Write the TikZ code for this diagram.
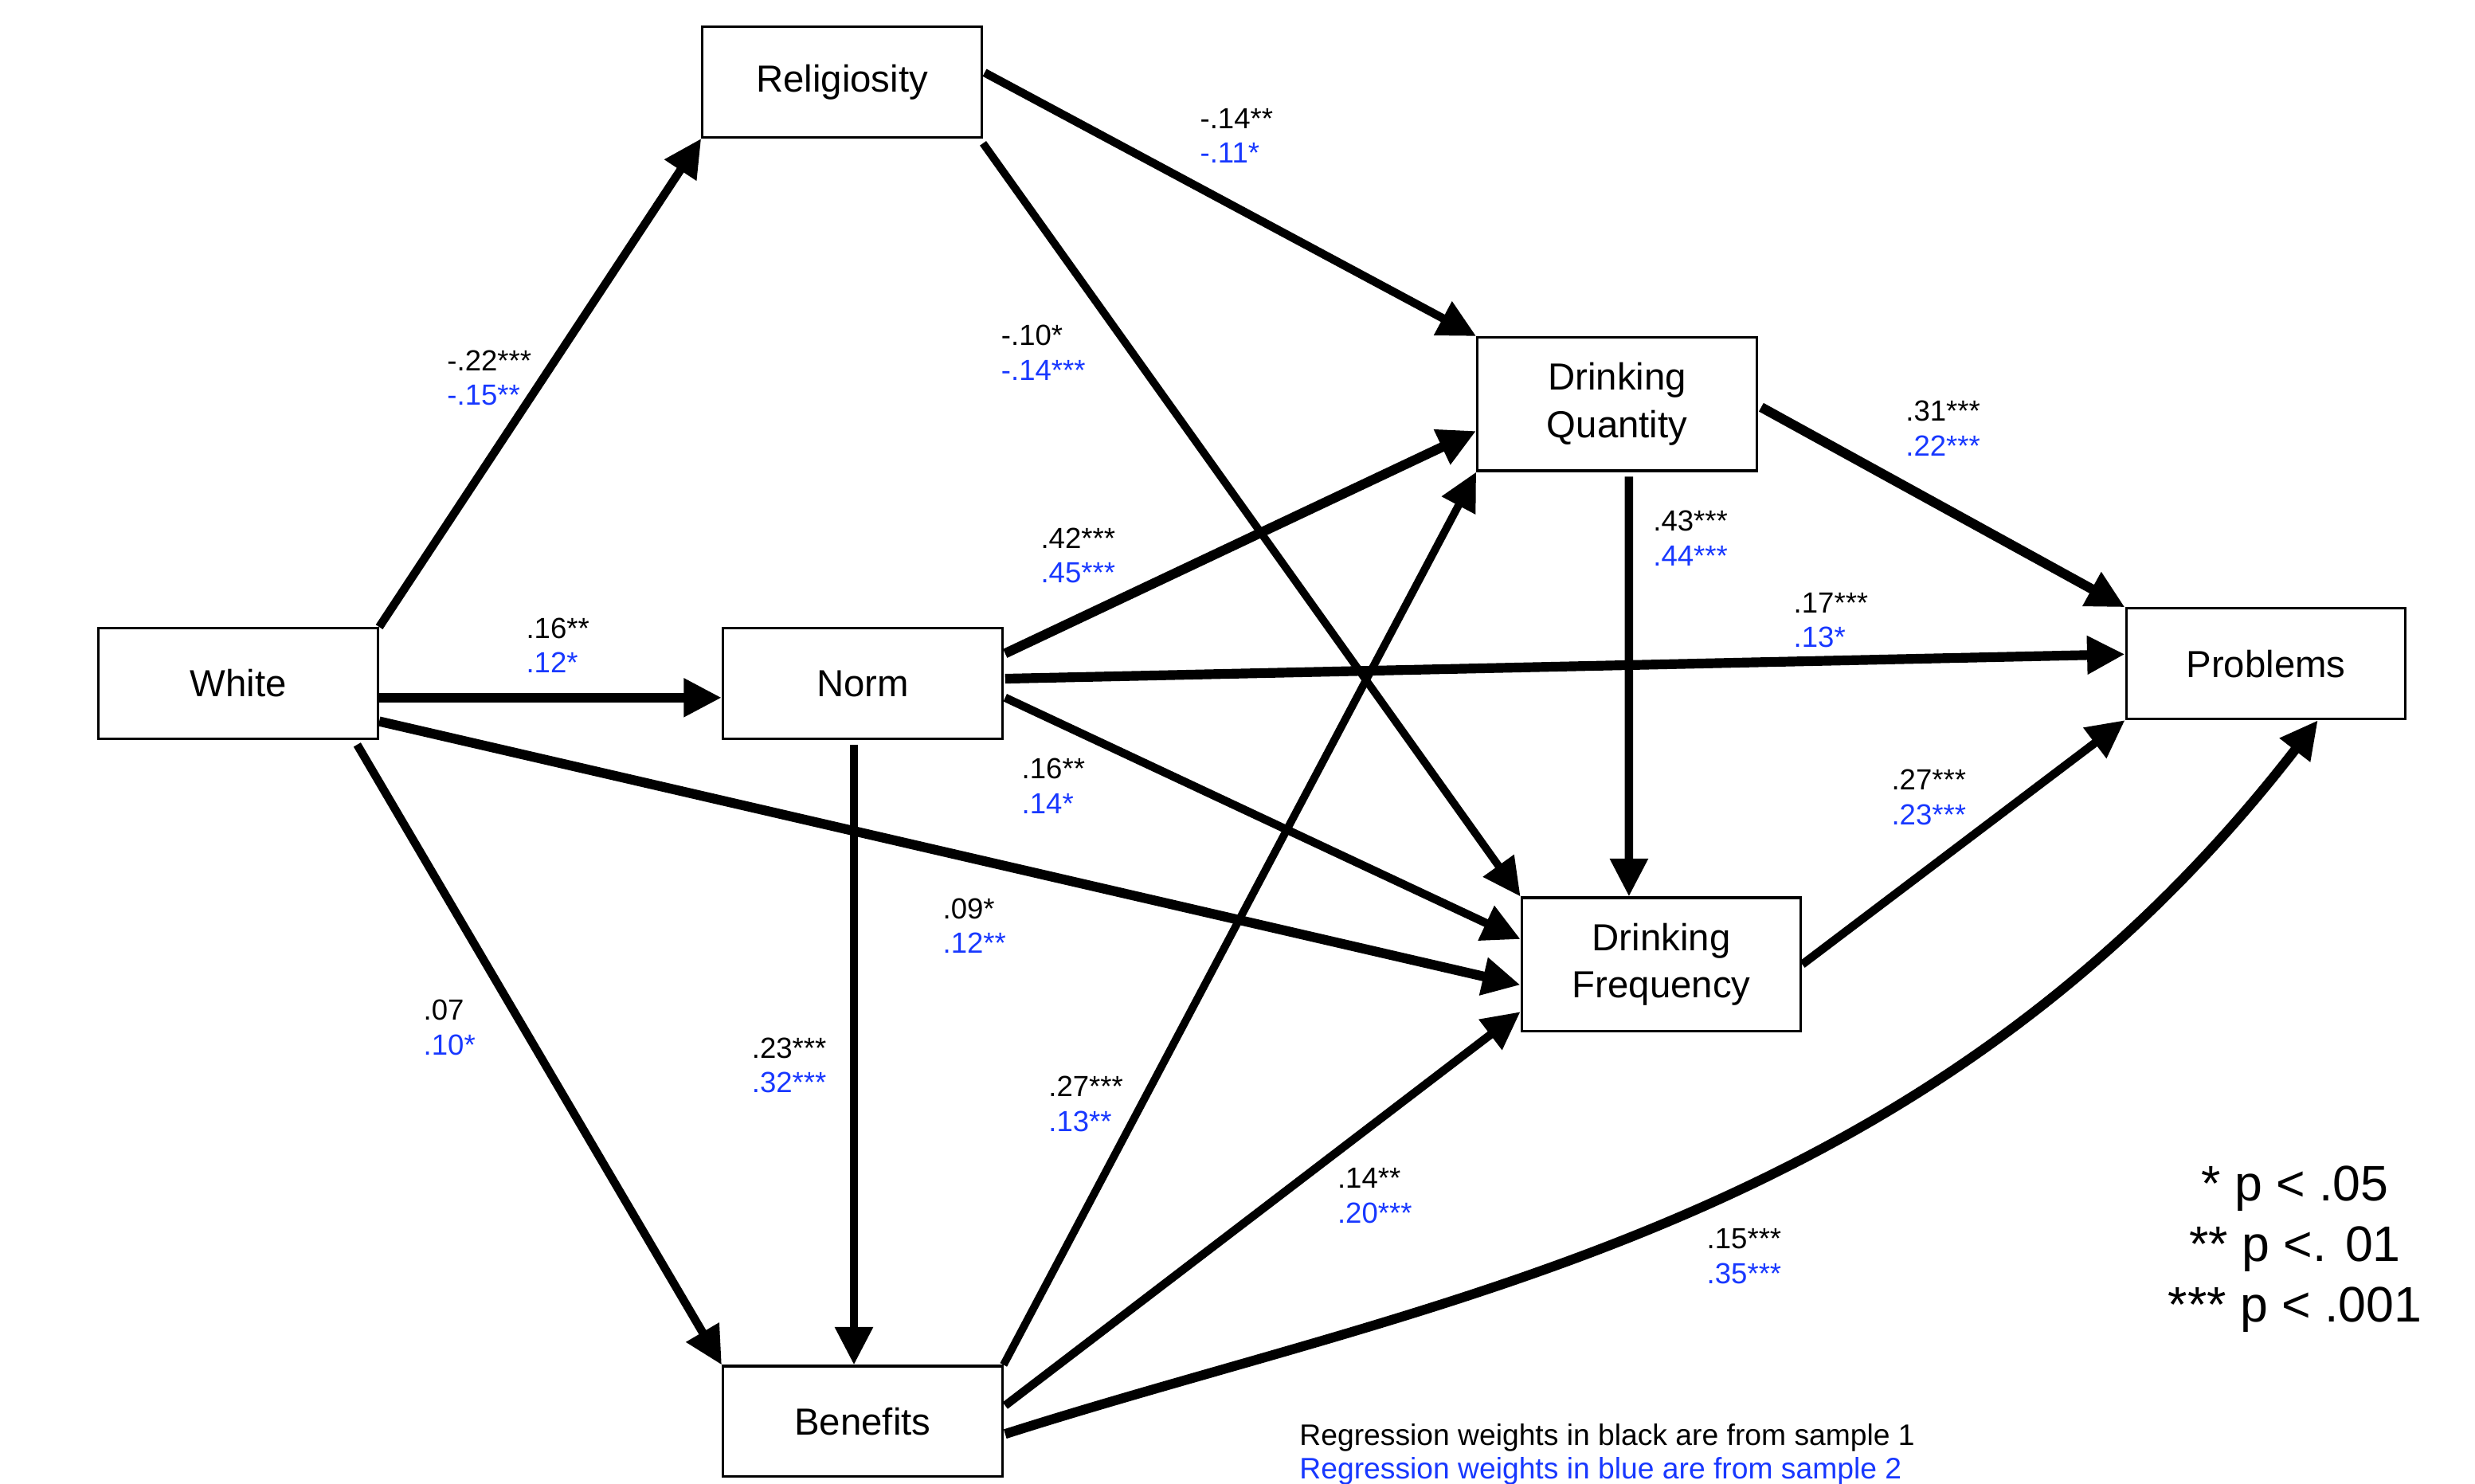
\documentclass[tikz,border=0pt]{standalone}
\usepackage{fontspec}
\setmainfont{Liberation Sans}
\usetikzlibrary{arrows.meta,calc}
\definecolor{cblue}{RGB}{24,56,255}
\tikzset{
  box/.style={draw, line width=0.9pt, minimum width=3.54cm, minimum height=1.4cm, inner sep=0pt, align=center, font=\fontsize{13.6}{16.4}\selectfont},
  tallbox/.style={box, minimum height=1.69cm},
  arr/.style={line width=3.0pt, -{Triangle[length=0.48cm,width=0.46cm]}},
  arrthin/.style={arr, line width=2.8pt},
  arrthick/.style={arr, line width=3.5pt},
  coef/.style={anchor=west, inner sep=0pt, align=left, font=\fontsize{10.5}{12.5}\selectfont},
}
\newcommand{\cf}[2]{#1\\\textcolor{cblue}{#2}}
\begin{document}
\begin{tikzpicture}[x=0.02cm,y=-0.02cm]
\useasboundingbox (0,0) rectangle (1568,940);
% nodes
\node[box] (Rel) at (533.5,52) {\raisebox{-1.2pt}{Religiosity}};
\node[box] (White) at (151,433) {\raisebox{-1.2pt}{White}};
\node[box] (Norm) at (546.5,433) {\raisebox{-1.2pt}{Norm}};
\node[tallbox] (DQ) at (1024.5,256) {\raisebox{-1.6pt}{\shortstack{Drinking\\[1.8pt]Quantity}}};
\node[box] (Prob) at (1435.5,420.5) {\raisebox{-1.2pt}{Problems}};
\node[tallbox] (DF) at (1052.5,611) {\raisebox{-1.6pt}{\shortstack{Drinking\\[1.8pt]Frequency}}};
\node[box] (Ben) at (546.5,900.5) {\raisebox{-1.2pt}{Benefits}};
% connectors
\draw[arr] (White.north east) -- (Rel.south west);
\draw[arrthick] ($(White.east)+(0,9)$) -- ($(Norm.west)+(0,9)$);
\draw[arrthick] ($(White.east)+(0,24)$) -- ($(DF.west)+(0,13)$);
\draw[arr] ($(White.south east)+(-14,3)$) -- (Ben.north west);
\draw[arr] ($(Rel.east)+(1,-6)$) -- (DQ.north west);
\draw[arrthin] ($(Rel.south east)+(0,3)$) -- (DF.north west);
\draw[arrthick] ($(Norm.east)+(1,-19)$) -- ($(DQ.west)+(0,17)$);
\draw[arrthick] ($(Norm.east)+(1,-3)$) -- ($(Prob.west)+(0,-6)$);
\draw[arr] ($(Norm.east)+(1,9)$) -- ($(DF.west)+(0,-16)$);
\draw[arr] ($(Norm.south)+(-5.5,3)$) -- ($(Ben.north)+(-5.5,0)$);
\draw[arrthick] ($(DQ.east)+(2,2)$) -- (Prob.north west);
\draw[arr] ($(DQ.south)+(7.5,3)$) -- ($(DF.north)+(-20.5,0)$);
\draw[arr] (DF.east) -- (Prob.south west);
\draw[arrthin] (Ben.north east) -- (DQ.south west);
\draw[arr] ($(Ben.east)+(1,-10)$) -- ($(DF.west)+(0,30)$);
\draw[arrthick] ($(Ben.east)+(1,8)$) .. controls +(269,-86) and +(-250,323) .. ($(Prob.south)+(33,0)$);
% coefficients
\node[coef] (c1) at (760,86) {\cf{-.14**}{-.11*}};
\node[coef] (c2) at (283,239.5) {\cf{-.22***}{-.15**}};
\node[coef] (c3) at (634,223.5) {\cf{-.10*}{-.14***}};
\node[coef] (c4) at (1207,271.5) {\cf{.31***}{.22***}};
\node[coef] (c5) at (659,352) {\cf{.42***}{.45***}};
\node[coef] (c6) at (1047,341) {\cf{.43***}{.44***}};
\node[coef] (c7) at (333,409) {\cf{.16**}{.12*}};
\node[coef] (c8) at (1136,393) {\cf{.17***}{.13*}};
\node[coef] (c9) at (647,498) {\cf{.16**}{.14*}};
\node[coef] (c10) at (1198,505) {\cf{.27***}{.23***}};
\node[coef] (c11) at (597,586.5) {\cf{.09*}{.12**}};
\node[coef] (c12) at (268,651) {\cf{.07}{.10*}};
\node[coef] (c13) at (476,675) {\cf{.23***}{.32***}};
\node[coef] (c14) at (664,699.5) {\cf{.27***}{.13**}};
\node[coef] (c15) at (847,757.5) {\cf{.14**}{.20***}};
\node[coef] (c16) at (1081,796) {\cf{.15***}{.35***}};
% legend
\node[align=center, inner sep=0pt, font=\fontsize{18}{21.8}\selectfont] (leg) at (1454,791.5) {* p < .05\\** p <. 01\\*** p < .001};
\node[anchor=west, align=left, inner sep=0pt, font=\fontsize{10.7}{12}\selectfont] (note) at (823,921.5) {Regression weights in black are from sample 1\\\textcolor{cblue}{Regression weights in blue are from sample 2}};
\end{tikzpicture}
\end{document}
